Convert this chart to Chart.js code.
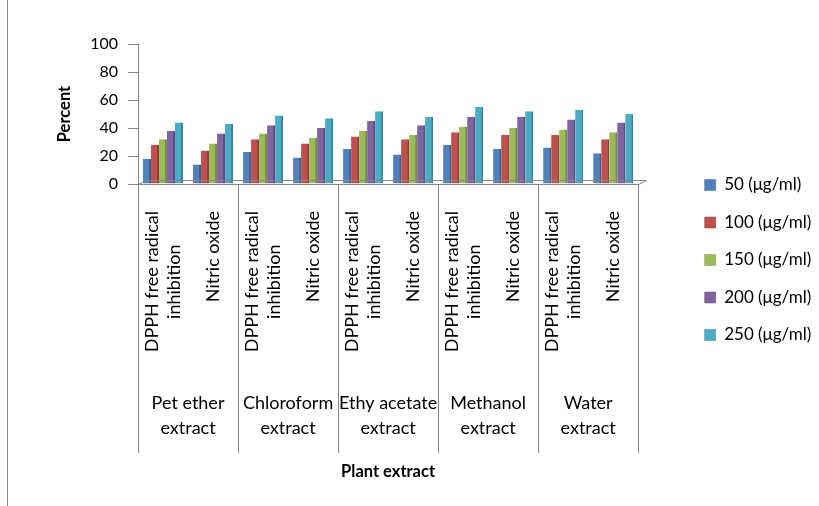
<!DOCTYPE html>
<html><head><meta charset="utf-8">
<script src="https://cdn.jsdelivr.net/npm/chart.js@4.4.1/dist/chart.umd.min.js"></script>
<style>html,body{margin:0;padding:0;background:#fff}</style>
</head><body>
<canvas id="c" width="819" height="506"></canvas>
<script>
const subCategories = [
  ["DPPH free radical", "inhibition"], "Nitric oxide",
  ["DPPH free radical", "inhibition"], "Nitric oxide",
  ["DPPH free radical", "inhibition"], "Nitric oxide",
  ["DPPH free radical", "inhibition"], "Nitric oxide",
  ["DPPH free radical", "inhibition"], "Nitric oxide"
];
const groupLabels = [
  ["Pet ether", "extract"], ["Chloroform", "extract"], ["Ethy acetate", "extract"],
  ["Methanol", "extract"], ["Water", "extract"]
];
const seriesNames = ["50 (μg/ml)", "100 (μg/ml)", "150 (μg/ml)", "200 (μg/ml)", "250 (μg/ml)"];
const s50  = [18, 14, 23, 19, 25, 21, 28, 25, 26, 22];
const s100 = [28, 24, 32, 29, 34, 32, 37, 35, 35, 32];
const s150 = [32, 29, 36, 33, 38, 35, 41, 40, 39, 37];
const s200 = [38, 36, 42, 40, 45, 42, 48, 48, 46, 44];
const s250 = [44, 43, 49, 47, 52, 48, 55, 52, 53, 50];
const yMin = 0, yMax = 100, yStep = 20;

const fills  = ["#4F81BD", "#C0504D", "#9BBB59", "#8064A2", "#4BACC6"];
const sides  = ["#3A6291", "#943C3A", "#768E43", "#614B7C", "#37849A"];
const values = [s50, s100, s150, s200, s250];
const FONT = "Lato, 'Liberation Sans', sans-serif";
const AXIS = "#868686";

const decor = {
  id: "decor",
  beforeDraw(chart) {
    const sx = chart.scales.x;
    const items = sx.getLabelItems();
    if (items._adj) return;
    items._adj = true;
    const ctx = chart.ctx;
    items.forEach(it => {
      if (Array.isArray(it.label) && it.label.length > 1) {
        ctx.save();
        ctx.font = it.font.string;
        const w = Math.max(...it.label.map(l => ctx.measureText(l).width));
        ctx.restore();
        const lh = it.font.lineHeight;
        it.options.textAlign = "center";
        it.options.translation = [it.options.translation[0] - lh / 2, it.options.translation[1] + w / 2];
      }
    });
  },
  afterDraw(chart) {
    const ctx = chart.ctx, sx = chart.scales.x;
    const { left, right, bottom } = chart.chartArea;
    ctx.save();
    ctx.strokeStyle = AXIS;
    ctx.lineWidth = 1;
    ctx.beginPath();
    for (let i = 0; i <= subCategories.length; i += 2) {
      const px = Math.round(sx.getPixelForValue(i - 0.5)) + 0.5;
      ctx.moveTo(px, bottom);
      ctx.lineTo(px, 453);
    }
    ctx.moveTo(7.5, 0);
    ctx.lineTo(7.5, 506);
    // 3D floor outline
    ctx.moveTo(left + 0.5, bottom + 0.5);
    ctx.lineTo(left + 8.5, bottom - 3.5);
    ctx.lineTo(right + 8.5, bottom - 3.5);
    ctx.lineTo(right + 0.5, bottom + 0.5);
    ctx.stroke();
    ctx.restore();
  }
};

new Chart(document.getElementById("c"), {
  type: "bar",
  data: {
    labels: subCategories,
    datasets: seriesNames.map((name, i) => ({
      label: name,
      data: values[i],
      backgroundColor: fills[i],
      borderColor: sides[i],
      borderWidth: { top: 0, right: 2, bottom: 0, left: 0 },
      borderSkipped: false,
      categoryPercentage: 0.8,
      barPercentage: 1.0
    }))
  },
  options: {
    responsive: false,
    animation: false,
    devicePixelRatio: 1,
    layout: { padding: { left: 10, top: 14, right: 0, bottom: 0 } },
    plugins: {
      legend: {
        position: "right",
        labels: {
          boxWidth: 11, boxHeight: 11, padding: 20.5, color: "#000",
          font: { family: FONT, size: 17 }
        }
      },
      tooltip: { enabled: false }
    },
    scales: {
      x: {
        type: "category",
        weight: 0,
        grid: { display: false, drawTicks: false },
        border: { display: true, color: AXIS, width: 1 },
        ticks: {
          minRotation: 90, maxRotation: 90, autoSkip: false, padding: 27,
          color: "#000", font: { family: FONT, size: 18 }
        },
        afterFit(s) { s.height = 200; }
      },
      x2: {
        type: "category",
        labels: groupLabels,
        position: "bottom",
        weight: 1,
        offset: true,
        grid: { display: false, drawTicks: false },
        border: { display: false },
        ticks: {
          maxRotation: 0, minRotation: 0, autoSkip: false, padding: 7,
          color: "#000", font: { family: FONT, size: 18, lineHeight: 1.39 }
        },
        title: {
          display: true, text: "Plant extract", color: "#000",
          font: { family: FONT, size: 16.5, weight: "bold" },
          padding: { top: 0, bottom: 24 }
        },
        afterFit(s) { s.height = 122; }
      },
      topGap: {
        type: "linear",
        position: "top",
        display: true,
        grid: { display: false },
        border: { display: false },
        ticks: { display: false },
        afterFit(s) { s.height = 30; }
      },
      y: {
        min: yMin, max: yMax,
        grid: { drawOnChartArea: false, drawTicks: true, tickLength: 10, color: AXIS },
        border: { display: true, color: AXIS, width: 1 },
        ticks: { stepSize: yStep, padding: 10, color: "#000", font: { family: FONT, size: 16 } },
        title: {
          display: true, text: "Percent", color: "#000",
          font: { family: FONT, size: 16.5, weight: "bold" },
          padding: { top: 45, bottom: 0 }
        },
        afterFit(s) { s.width = 128; }
      },
      gap: {
        type: "linear",
        position: "right",
        display: true,
        grid: { display: false },
        border: { display: false },
        ticks: { display: false },
        afterFit(s) { s.width = 46; }
      }
    }
  },
  plugins: [decor]
});
</script>
</body></html>
